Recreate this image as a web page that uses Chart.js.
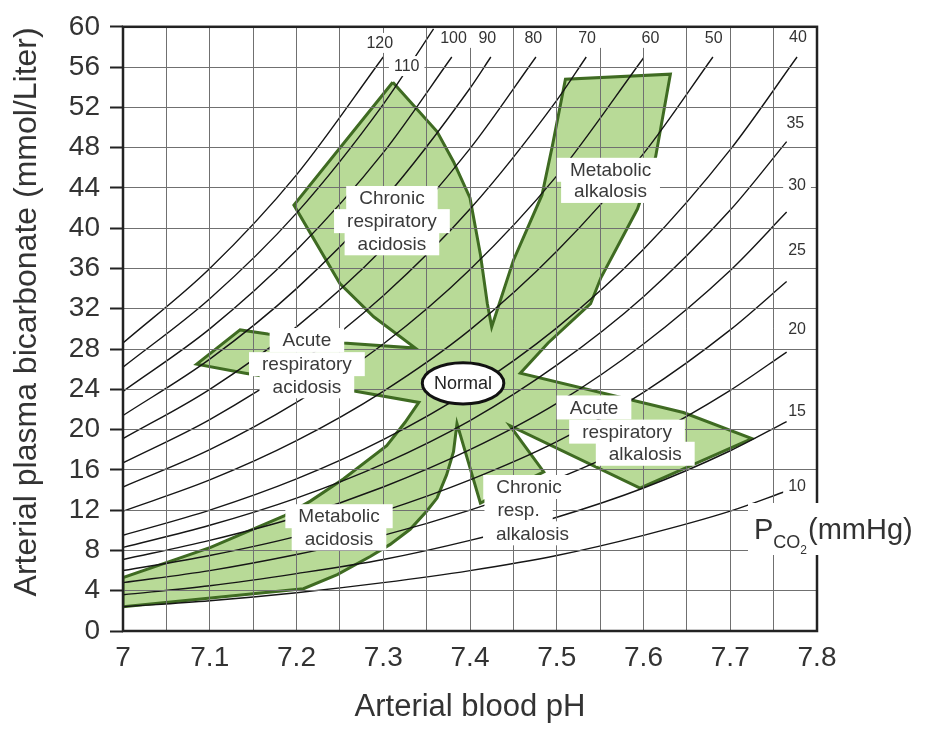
<!DOCTYPE html>
<html>
<head>
<meta charset="utf-8">
<title>Acid-base nomogram</title>
<script src="https://cdn.jsdelivr.net/npm/chart.js@4.4.1/dist/chart.umd.min.js"></script>
<style>
  body { margin: 0; background: #fff; }
  #box { width: 934px; height: 729px; }
</style>
</head>
<body>
<div id="box"><canvas id="myChart"></canvas></div>
<script>
const FONT = '"Liberation Sans", Arial, Helvetica, sans-serif';

// pH points used along every PCO2 isopleth
const phSteps = [7.0, 7.1, 7.2, 7.3, 7.4, 7.5, 7.6, 7.7];
const pco2Labels = ['120', '110', '100', '90', '80', '70', '60', '50', '40', '35', '30', '25', '20', '15', '10'];

// bicarbonate (mmol/L) read along each isopleth, from pH 7.0 upward
const iso120 = [28.6, 36.0, 45.3];
const iso110 = [26.2, 33.0, 41.5, 52.3];
const iso100 = [23.8, 30.0, 37.8, 47.5];
const iso90 = [21.4, 27.0, 34.0, 42.8, 53.9];
const iso80 = [19.1, 24.0, 30.2, 38.0, 47.9];
const iso70 = [16.7, 21.0, 26.4, 33.3, 41.9, 52.7];
const iso60 = [14.3, 18.0, 22.7, 28.5, 35.9, 45.2];
const iso50 = [11.9, 15.0, 18.9, 23.8, 29.9, 37.7, 47.4];
const iso40 = [9.5, 12.0, 15.1, 19.0, 23.9, 30.1, 37.9, 47.8];
const iso35 = [8.3, 10.5, 13.2, 16.6, 20.9, 26.4, 33.2, 41.8];
const iso30 = [7.1, 9.0, 11.3, 14.3, 18.0, 22.6, 28.5, 35.8];
const iso25 = [6.0, 7.5, 9.4, 11.9, 15.0, 18.8, 23.7, 29.9];
const iso20 = [4.8, 6.0, 7.6, 9.5, 12.0, 15.1, 19.0, 23.9];
const iso15 = [3.6, 4.5, 5.7, 7.1, 9.0, 11.3, 14.2, 17.9];
const iso10 = [2.4, 3.0, 3.8, 4.8, 6.0, 7.5, 9.5, 11.9];
// last point of each isopleth
const isoEndPh = [7.300, 7.358, 7.379, 7.424, 7.476, 7.534, 7.600, 7.680, 7.777, 7.765, 7.765, 7.765, 7.765, 7.765, 7.765];
const isoEndHco3 = [57.0, 59.8, 57.0, 57.0, 57.0, 57.0, 56.9, 57.0, 57.0, 48.6, 41.6, 34.7, 27.7, 20.8, 13.9];

// where the PCO2 numbers are printed
const isoLabelPh = [7.296, 7.327, 7.381, 7.420, 7.473, 7.535, 7.608, 7.681, 7.778, 7.775, 7.777, 7.777, 7.777, 7.777, 7.777];
const isoLabelHco3 = [58.4, 56.1, 58.9, 58.9, 58.9, 58.9, 58.9, 58.9, 59.0, 50.5, 44.3, 37.9, 30.0, 21.9, 14.4];

// outline of the shaded bands, clockwise from the top of chronic resp. acidosis
const zonePh = [7.311, 7.362, 7.381, 7.400, 7.412, 7.420, 7.425, 7.450, 7.483, 7.495,
  7.510, 7.631, 7.614, 7.593, 7.551, 7.539, 7.490, 7.458, 7.646, 7.725,
  7.596, 7.446, 7.485, 7.412, 7.385, 7.381, 7.373, 7.362, 7.350, 7.331,
  7.308, 7.285, 7.247, 7.208, 7.000, 7.000, 7.101, 7.185, 7.216, 7.254,
  7.304, 7.325, 7.341, 7.268, 7.141, 7.085, 7.135, 7.167, 7.254, 7.337,
  7.289, 7.250, 7.197, 7.311];
const zoneHco3 = [54.5, 49.6, 46.6, 43.0, 37.4, 32.5, 30.2, 36.8, 43.3, 48.2,
  54.8, 55.3, 47.1, 41.9, 35.1, 32.5, 28.6, 25.6, 21.7, 19.1,
  14.2, 20.4, 15.8, 12.7, 20.6, 17.8, 15.5, 13.2, 11.9, 10.1,
  8.6, 7.4, 5.6, 4.2, 2.4, 5.3, 8.3, 11.4, 12.9, 15.1,
  18.4, 20.7, 22.7, 23.8, 25.6, 26.5, 29.9, 29.5, 28.6, 28.1,
  31.2, 34.5, 42.3, 54.5];

// the "Normal" ellipse: centre and half sizes
const normalCenter = [7.392, 24.6];
const normalHalf = [0.047, 2.05];

// region names, one entry per text line
const noteText = ['Chronic', 'respiratory', 'acidosis', 'Metabolic', 'alkalosis',
  'Acute', 'respiratory', 'acidosis', 'Acute', 'respiratory', 'alkalosis',
  'Metabolic', 'acidosis', 'Chronic', 'resp.', 'alkalosis'];
const notePh = [7.310, 7.310, 7.310, 7.562, 7.562,
  7.212, 7.212, 7.212, 7.543, 7.581, 7.602,
  7.249, 7.249, 7.468, 7.456, 7.472];
const noteHco3 = [43.0, 40.7, 38.5, 45.8, 43.7,
  28.9, 26.5, 24.3, 22.2, 19.8, 17.6,
  11.4, 9.2, 14.3, 12.0, 9.7];

const isoRows = [iso120, iso110, iso100, iso90, iso80, iso70, iso60, iso50, iso40, iso35, iso30, iso25, iso20, iso15, iso10];

const datasets = [];
isoRows.forEach((row, k) => {
  const pts = row.map((v, i) => ({x: phSteps[i], y: v}));
  pts.push({x: isoEndPh[k], y: isoEndHco3[k]});
  datasets.push({
    label: 'PCO2 ' + pco2Labels[k],
    data: pts,
    borderColor: '#161616',
    borderWidth: 1.4,
    pointRadius: 0,
    fill: false,
    cubicInterpolationMode: 'monotone',
    order: 1
  });
});
datasets.push({
  label: 'zones',
  data: zonePh.map((p, i) => ({x: p, y: zoneHco3[i]})),
  borderColor: '#3f6b22',
  borderWidth: 3,
  backgroundColor: '#b8da97',
  fill: 'shape',
  pointRadius: 0,
  tension: 0,
  order: 2
});

const overlay = {
  id: 'overlay',
  afterDraw(chart) {
    const {ctx, chartArea: a, scales: {x, y}} = chart;
    ctx.save();
    ctx.textAlign = 'center';
    ctx.textBaseline = 'middle';

    // PCO2 numbers
    ctx.font = '16px ' + FONT;
    pco2Labels.forEach((t, i) => {
      const px = x.getPixelForValue(isoLabelPh[i]);
      const py = y.getPixelForValue(isoLabelHco3[i]);
      const w = ctx.measureText(t).width;
      ctx.fillStyle = '#fff';
      ctx.fillRect(px - w / 2 - 5, py - 10, w + 10, 20);
      ctx.fillStyle = '#333';
      ctx.fillText(t, px, py + 1);
    });

    // region names on white patches
    ctx.font = '19px ' + FONT;
    noteText.forEach((t, i) => {
      const px = x.getPixelForValue(notePh[i]);
      const py = y.getPixelForValue(noteHco3[i]);
      const w = ctx.measureText(t).width;
      ctx.fillStyle = '#fff';
      ctx.fillRect(px - w / 2 - 13, py - 12, w + 26, 24);
    });
    ctx.fillStyle = '#3a3a3a';
    noteText.forEach((t, i) => {
      ctx.fillText(t, x.getPixelForValue(notePh[i]), y.getPixelForValue(noteHco3[i]) + 1);
    });

    // Normal
    const cx = x.getPixelForValue(normalCenter[0]);
    const cy = y.getPixelForValue(normalCenter[1]);
    const rx = x.getPixelForValue(normalCenter[0] + normalHalf[0]) - cx;
    const ry = cy - y.getPixelForValue(normalCenter[1] + normalHalf[1]);
    ctx.beginPath();
    ctx.ellipse(cx, cy, rx, ry, 0, 0, Math.PI * 2);
    ctx.fillStyle = '#fff';
    ctx.fill();
    ctx.lineWidth = 3;
    ctx.strokeStyle = '#111';
    ctx.stroke();
    ctx.font = '18px ' + FONT;
    ctx.fillStyle = '#222';
    ctx.fillText('Normal', cx, cy + 1);

    // frame
    ctx.strokeStyle = '#222';
    ctx.lineWidth = 2.5;
    ctx.strokeRect(a.left, a.top, a.right - a.left, a.bottom - a.top);

    // y axis title, sitting a little above the middle as in the original
    ctx.save();
    ctx.translate(27, (a.top + a.bottom) / 2 - 17);
    ctx.rotate(-Math.PI / 2);
    ctx.font = '32px ' + FONT;
    ctx.fillStyle = '#333';
    ctx.fillText('Arterial plasma bicarbonate (mmol/Liter)', 0, 0);
    ctx.restore();

    // PCO2 (mmHg) caption
    const bx = a.right - 63, by = a.bottom - 92;
    ctx.fillStyle = '#fff';
    ctx.fillRect(bx - 6, by - 36, 934 - bx + 6, 52);
    ctx.fillStyle = '#333';
    ctx.textAlign = 'left';
    ctx.textBaseline = 'alphabetic';
    ctx.font = '29px ' + FONT;
    ctx.fillText('P', bx, by);
    let cur = bx + ctx.measureText('P').width;
    ctx.font = '18px ' + FONT;
    ctx.fillText('CO', cur, by + 9);
    cur += ctx.measureText('CO').width;
    ctx.font = '12px ' + FONT;
    ctx.fillText('2', cur, by + 15);
    cur += ctx.measureText('2').width + 1;
    ctx.font = '29px ' + FONT;
    ctx.fillText('(mmHg)', cur, by);
    ctx.restore();
  }
};

const ctx = document.getElementById('myChart');

new Chart(ctx, {
  type: 'line',
  data: {datasets},
  options: {
    responsive: true,
    maintainAspectRatio: false,
    animation: false,
    layout: {padding: {top: 20, right: 117, left: 0, bottom: 0}},
    plugins: {legend: {display: false}, tooltip: {enabled: false}},
    scales: {
      x: {
        type: 'linear',
        min: 7,
        max: 7.8,
        afterFit: (s) => { s.height = 98; },
        grid: {color: '#707070', lineWidth: 1, drawTicks: false, z: 1},
        border: {display: false},
        ticks: {
          stepSize: 0.05,
          autoSkip: false,
          maxRotation: 0,
          padding: 10,
          color: '#333',
          font: {family: FONT, size: 28},
          callback: (v) => {
            const r = Math.round(v * 100);
            return r % 10 === 0 ? String(Math.round(v * 10) / 10) : '';
          }
        },
        title: {
          display: true,
          text: 'Arterial blood pH',
          color: '#333',
          font: {family: FONT, size: 31},
          padding: {top: 0, bottom: 3}
        }
      },
      y: {
        min: 0,
        max: 60,
        afterFit: (s) => { s.width = 123; },
        grid: {color: '#707070', lineWidth: 1, tickColor: '#222', tickLength: 13, tickWidth: 2, z: 1},
        border: {display: false},
        ticks: {
          stepSize: 4,
          autoSkip: false,
          padding: 10,
          color: '#333',
          font: {family: FONT, size: 28}
        }
      }
    }
  },
  plugins: [overlay]
});
</script>
</body>
</html>
